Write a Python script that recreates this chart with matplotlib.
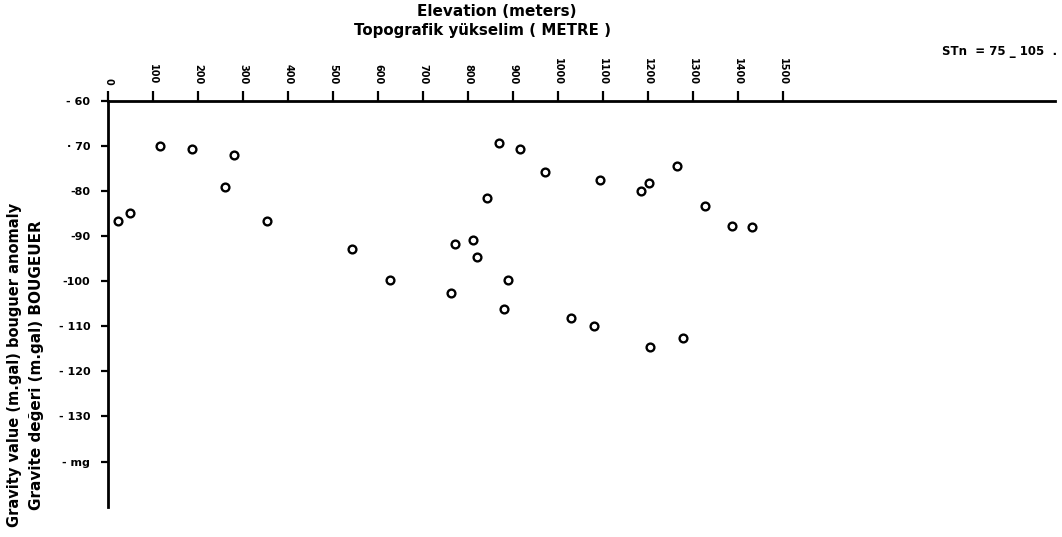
import matplotlib
matplotlib.use("Agg")
import matplotlib.pyplot as plt

# Data
elevation_m = [22, 48, 115, 185, 280, 259, 352, 541, 626, 762,
               771, 811, 820, 842, 869, 888, 880, 915, 971, 1028,
               1093, 1183, 1202, 1265, 1326, 1387, 1430, 1080, 1204, 1278]
bouguer_mgal = [-86.8, -85.0, -70.1, -70.7, -72.0, -79.1, -86.8, -92.9, -99.7, -102.7,
                -91.9, -91.0, -94.6, -81.6, -69.5, -99.7, -106.2, -70.8, -75.8, -108.2,
                -77.7, -80.0, -78.2, -74.5, -83.3, -87.8, -88.0, -110.0, -114.6, -112.6]

x_ticks = [0, 100, 200, 300, 400, 500, 600, 700, 800, 900,
           1000, 1100, 1200, 1300, 1400, 1500]
x_tick_labels = [str(v) for v in x_ticks]
y_ticks = [-60, -70, -80, -90, -100, -110, -120, -130, -140]
y_tick_labels = ["- 60", "· 70", "-80", "-90", "-100", "- 110", "- 120", "- 130", "- mg"]

FIG_W, FIG_H = 1062, 537
fig = plt.figure(figsize=(FIG_W / 100, FIG_H / 100), dpi=100)
left_px, right_px, top_px, bottom_px = 108.3, 1055, 100.5, 506.7
ax = fig.add_axes([left_px / FIG_W, 1 - bottom_px / FIG_H,
                   (right_px - left_px) / FIG_W, (bottom_px - top_px) / FIG_H])

ax.plot(elevation_m, bouguer_mgal, linestyle="none", marker="o",
        markersize=5.6, markerfacecolor="white", markeredgecolor="black",
        markeredgewidth=1.7)

ax.set_xlim(0, 2104)
ax.set_ylim(-150, -60)

for s in ("right", "bottom"):
    ax.spines[s].set_visible(False)
ax.spines["left"].set_linewidth(2.0)
ax.spines["top"].set_linewidth(2.0)

ax.xaxis.tick_top()
ax.set_xticks(x_ticks)
ax.set_xticklabels(x_tick_labels, rotation=-90, fontsize=7, fontweight="bold",
                   va="bottom", ha="center")
ax.tick_params(axis="x", direction="out", length=7.5, width=1.6, pad=4)

ax.set_yticks(y_ticks)
ax.set_yticklabels(y_tick_labels, fontsize=8, fontweight="bold")
ax.tick_params(axis="y", direction="out", length=5, width=1.6, pad=8)

# Titles (top)
fig.text(497 / FIG_W, 1 - 11 / FIG_H, "Elevation (meters)", ha="center", va="center",
         fontsize=11, fontweight="bold")
fig.text(482 / FIG_W, 1 - 31 / FIG_H, "Topografik yükselim ( METRE )", ha="center",
         va="center", fontsize=10.8, fontweight="bold")
fig.text(1000 / FIG_W, 1 - 52 / FIG_H, "STn  = 75 _ 105  .", ha="center", va="center",
         fontsize=8.5, fontweight="bold")

# Y labels (two lines, rotated)
fig.text(15 / FIG_W, 1 - 365 / FIG_H, "Gravity value (m.gal) bouguer anomaly",
         rotation=90, ha="center", va="center", fontsize=10.5, fontweight="bold")
fig.text(37 / FIG_W, 1 - 365 / FIG_H, "Gravite değeri (m.gal) BOUGEUER",
         rotation=90, ha="center", va="center", fontsize=11, fontweight="bold")

fig.savefig("out.png", dpi=100, facecolor="white")
